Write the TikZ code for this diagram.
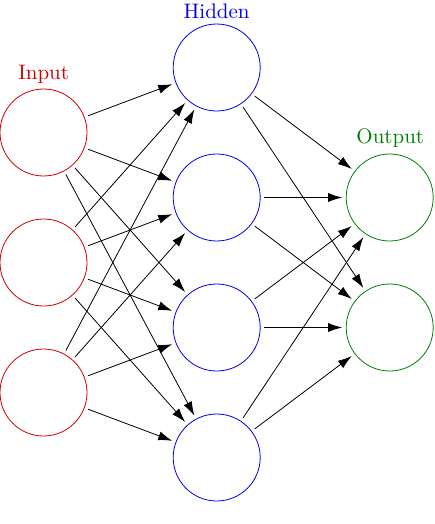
\documentclass[tikz,border=0pt]{standalone}
\usetikzlibrary{arrows.meta}
\definecolor{inred}{RGB}{204,0,0}
\definecolor{hidblue}{RGB}{0,0,230}
\definecolor{outgreen}{RGB}{0,128,0}
\begin{document}
\begin{tikzpicture}[x=1pt,y=-1pt,
  neuron/.style={circle,draw,line width=0.8pt,minimum size=87pt,inner sep=0pt,outer sep=0pt},
  inneuron/.style={neuron,draw=inred},
  hidneuron/.style={neuron,draw=hidblue},
  outneuron/.style={neuron,draw=outgreen},
  conn/.style={line width=0.8pt,-{Latex[length=14pt,width=9pt]},shorten >=4pt,shorten <=4pt},
  lab/.style={anchor=base,inner sep=0pt,scale=2.1}]
\useasboundingbox (0,0) rectangle (435,524);
\foreach \i/\y in {1/132.5,2/262.5,3/392.5} \node[inneuron] (I\i) at (43.5,\y) {};
\foreach \i/\y in {1/67.5,2/197.5,3/327.5,4/457.5} \node[hidneuron] (H\i) at (216.7,\y) {};
\foreach \i/\y in {1/197.5,2/327.5} \node[outneuron] (O\i) at (389.7,\y) {};
\node[lab,text=inred] (tin) at (43.7,79.3) {Input};
\node[lab,text=hidblue] (thid) at (216.7,18.3) {Hidden};
\node[lab,text=outgreen] (tout) at (390.3,143.3) {Output};
\foreach \i in {1,2,3} \foreach \j in {1,2,3,4} \draw[conn] (I\i) -- (H\j);
\foreach \j in {1,2,3,4} \foreach \k in {1,2} \draw[conn] (H\j) -- (O\k);
\end{tikzpicture}
\end{document}
